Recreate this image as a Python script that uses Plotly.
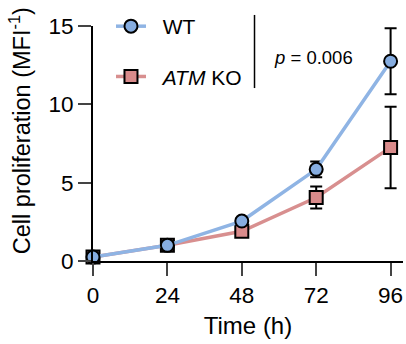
import plotly.graph_objects as go

time_h = [0, 24, 48, 72, 96]
wt_mean = [0.25, 1.0, 2.55, 5.85, 12.75]
wt_err = [0.1, 0.1, 0.2, 0.5, 2.1]
ko_mean = [0.25, 1.0, 1.9, 4.05, 7.25]
ko_err = [0.1, 0.1, 0.15, 0.7, 2.6]
x_ticks = [0, 24, 48, 72, 96]
y_ticks = [0, 5, 10, 15]

blue_line = "#8fb4e4"
blue_fill = "#86ade0"
red_line = "#d88f8f"
red_fill = "#d98b8b"

fig = go.Figure()
fig.add_trace(go.Scatter(
    x=time_h, y=ko_mean, name="&nbsp;&nbsp;<i>ATM</i> KO", mode="lines+markers",
    line=dict(color=red_line, width=3.5),
    marker=dict(symbol="square", size=13, color=red_fill, line=dict(color="black", width=2)),
    error_y=dict(type="data", array=ko_err, color="black", thickness=2, width=6),
    cliponaxis=False, legendgroup="b", legendrank=2,
))
fig.add_trace(go.Scatter(
    x=time_h, y=wt_mean, name="&nbsp;&nbsp;WT", mode="lines+markers",
    line=dict(color=blue_line, width=3.5),
    marker=dict(symbol="circle", size=13, color=blue_fill, line=dict(color="black", width=2)),
    error_y=dict(type="data", array=wt_err, color="black", thickness=2, width=6),
    cliponaxis=False, legendgroup="a", legendrank=1,
))

fig.add_shape(type="line", xref="paper", yref="paper", x0=0.521, x1=0.521, y0=1.047, y1=0.736,
              line=dict(color="black", width=1.5))
fig.add_annotation(xref="paper", yref="paper", x=0.577, y=0.868, xanchor="left", yanchor="middle",
                   text="<i>p</i> = 0.006", showarrow=False, font=dict(size=18.5, color="black"))
fig.add_annotation(xref="paper", yref="paper", x=-0.235, y=0.553, xanchor="center", yanchor="middle",
                   textangle=-90, text="Cell proliferation (MFI<sup>-1</sup>)", showarrow=False,
                   font=dict(size=23.5, color="black"))

fig.update_layout(
    width=406, height=344,
    margin=dict(l=93, r=3, t=26, b=83, autoexpand=False),
    paper_bgcolor="white", plot_bgcolor="white",
    font=dict(family="Liberation Sans, Arial, sans-serif", color="black", size=22),
    showlegend=True,
    legend=dict(x=0.058, y=1.085, xanchor="left", yanchor="top", bgcolor="rgba(0,0,0,0)",
                font=dict(size=21), tracegroupgap=20, traceorder="grouped"),
    xaxis=dict(range=[0, 100], tickvals=x_ticks, ticks="outside", ticklen=13, tickwidth=2,
               showline=True, linecolor="black", linewidth=2, showgrid=False, zeroline=False,
               tickfont=dict(size=22.5), automargin=False,
               title=dict(text="Time (h)", font=dict(size=24), standoff=10)),
    yaxis=dict(range=[0, 15], tickvals=y_ticks, ticks="outside", ticklen=13, tickwidth=2,
               showline=True, linecolor="black", linewidth=2, showgrid=False, zeroline=False,
               tickfont=dict(size=22.5), automargin=False),
)

fig.write_html("out.html", config={"displayModeBar": False},
               post_script="document.body.style.margin='0';document.body.style.overflow='hidden';")
